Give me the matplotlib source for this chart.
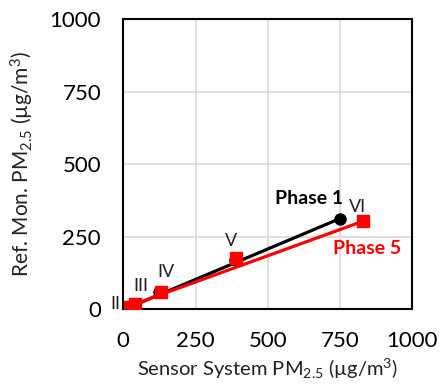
import matplotlib
matplotlib.use("Agg")
import matplotlib.pyplot as plt

plt.rcParams['font.family'] = ['Lato', 'DejaVu Sans']
plt.rcParams['mathtext.default'] = 'regular'

labels = ["II", "III", "IV", "V", "VI"]
phase1_x = [15, 35, 122, 385, 750]
phase1_y = [5, 15, 58, 170, 312]
phase5_x = [22, 40, 130, 390, 830]
phase5_y = [8, 18, 57, 177, 305]
# straight trend lines (start, end)
phase1_line_x = [19, 750]
phase1_line_y = [5, 312]
phase5_line_x = [20, 830]
phase5_line_y = [10, 303]
label_pos = [(-27, 17), (61, 78), (148, 126), (373, 233), (812, 353)]
ticks = [0, 250, 500, 750, 1000]

fig = plt.figure(figsize=(4.41, 3.91), dpi=100)
ax = fig.add_axes([0.2796, 0.2097, 0.6554, 0.7417])

ax.plot(phase1_x, phase1_y, color='black', lw=0, marker='o', ms=8, zorder=3)
ax.plot(phase1_line_x, phase1_line_y, color='black', lw=2.3, zorder=3)
ax.plot(phase5_x, phase5_y, color='#ff0000', lw=0, marker='s', ms=8.5, zorder=4)
ax.plot(phase5_line_x, phase5_line_y, color='#ff0000', lw=2.3, zorder=4)

for lab, (lx, ly) in zip(labels, label_pos):
    ax.text(lx, ly, lab, fontsize=13, ha='center', va='center', color='#222222',
            clip_on=False, zorder=5)

ax.text(644, 380, "Phase 1", fontsize=14, fontweight='bold', ha='center', va='center', color='black')
ax.text(845, 210, "Phase 5", fontsize=14, fontweight='bold', ha='center', va='center', color='#ff0000')

ax.set_xlim(0, 1000)
ax.set_ylim(0, 1000)
ax.set_xticks(ticks)
ax.set_yticks(ticks)
ax.tick_params(axis='x', length=0, labelsize=16, pad=16)
ax.tick_params(axis='y', length=0, labelsize=16, pad=16)
ax.grid(True, color='#d9d9d9', lw=1.2)
ax.set_axisbelow(True)
for s in ax.spines.values():
    s.set_linewidth(1.5)
    s.set_color('black')

ax.set_xlabel("Sensor System PM$_{2.5}$ (µg/m$^3$)", fontsize=14.5, labelpad=4, color='#222222')
ax.set_ylabel("Ref. Mon. PM$_{2.5}$ (µg/m$^3$)", fontsize=15, labelpad=10, color='#222222')

fig.savefig("out.png", dpi=100)
